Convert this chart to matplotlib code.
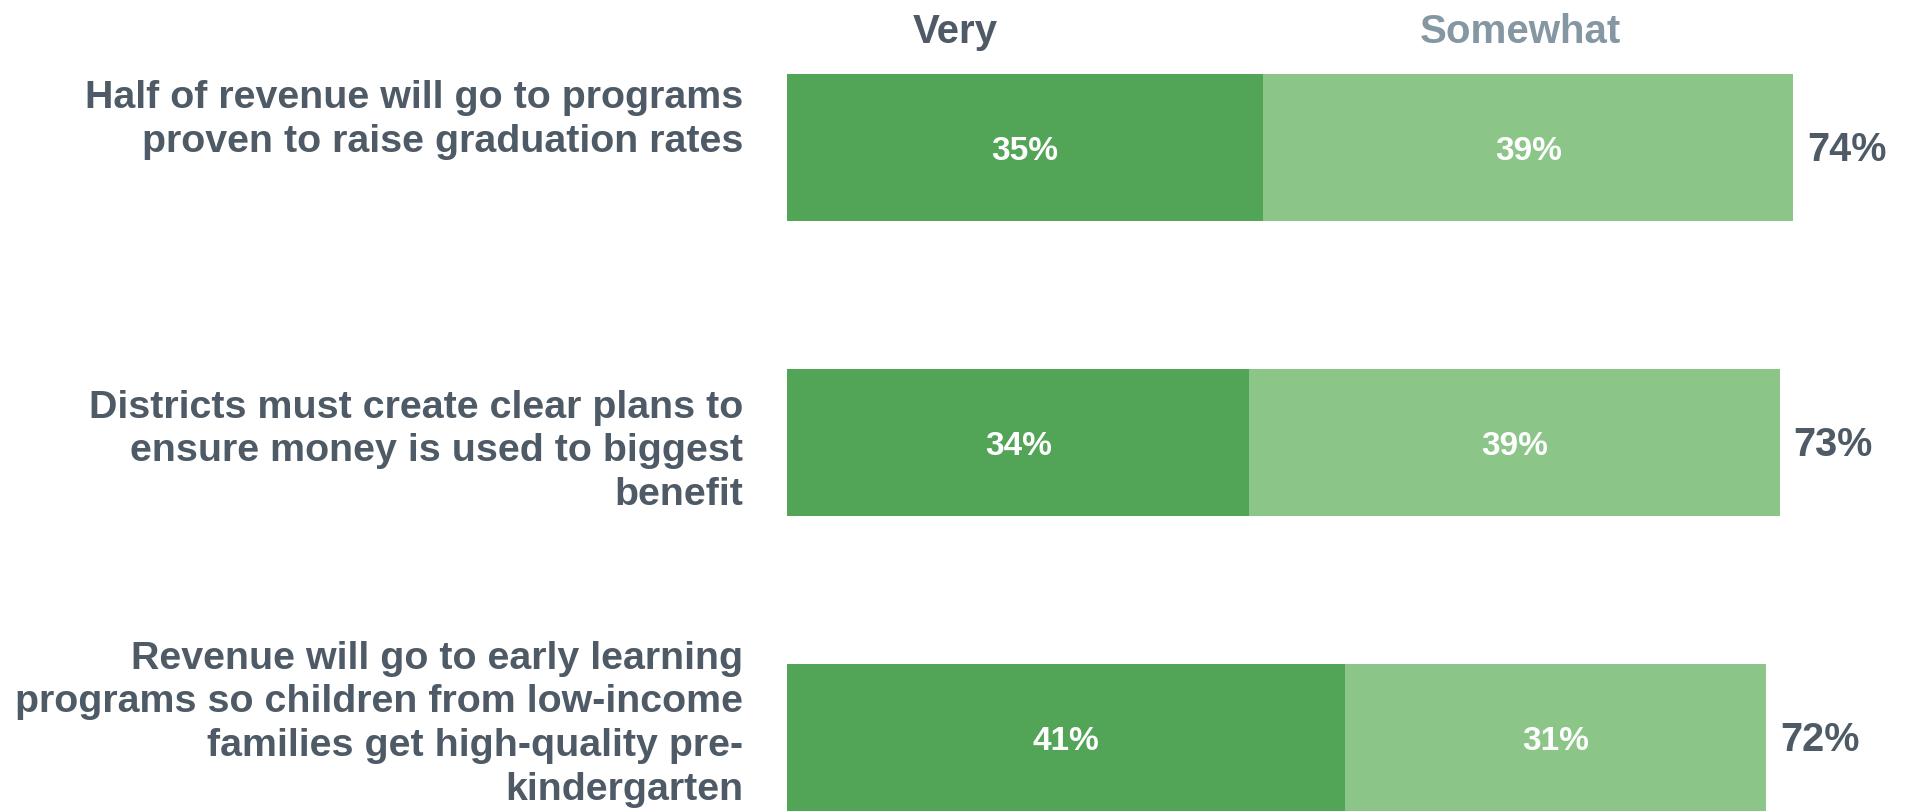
import matplotlib.pyplot as plt

plt.rcParams['font.family'] = ['Liberation Sans', 'DejaVu Sans']
plt.rcParams['font.weight'] = 'bold'

labels = [
    "Half of revenue will go to programs\nproven to raise graduation rates",
    "Districts must create clear plans to\nensure money is used to biggest\nbenefit",
    "Revenue will go to early learning\nprograms so children from low-income\nfamilies get high-quality pre-\nkindergarten",
]
very = [35, 34, 41]
somewhat = [39, 39, 31]
totals = [74, 73, 72]
label_y = [-0.092, 1.03, 1.955]

dark = '#52a457'
light = '#8bc587'
text_col = '#4e5a65'

fig = plt.figure(figsize=(19.07, 8.11), dpi=100)
ax = fig.add_axes([0.4127, 0, 0.5873, 1])
ax.set_xlim(0, 82.35)
ax.set_ylim(2.249, -0.5)
ax.axis('off')

ypos = list(range(len(labels)))
ax.barh(ypos, very, height=0.5, color=dark)
ax.barh(ypos, somewhat, left=very, height=0.5, color=light)

for i in ypos:
    ax.text(very[i] / 2, i + 0.012, f"{very[i]}%", ha='center', va='center',
            color='white', fontsize=24, fontweight='bold')
    ax.text(very[i] + somewhat[i] / 2, i + 0.012, f"{somewhat[i]}%", ha='center',
            va='center', color='white', fontsize=24, fontweight='bold')
    ax.text(totals[i] + 1.0, i + 0.01, f"{totals[i]}%", ha='left', va='center',
            color=text_col, fontsize=28.5, fontweight='bold')
    ax.text(-3.2, label_y[i], labels[i], ha='right', va='center',
            multialignment='right', color=text_col, fontsize=28.4,
            fontweight='bold', linespacing=1.28)

ax.text(12.4, -0.39, "Very", ha='center', va='center', color=text_col,
        fontsize=29, fontweight='bold')
ax.text(53.9, -0.39, "Somewhat", ha='center', va='center', color='#8497a3',
        fontsize=29, fontweight='bold')

fig.savefig("out.png", dpi=100)
